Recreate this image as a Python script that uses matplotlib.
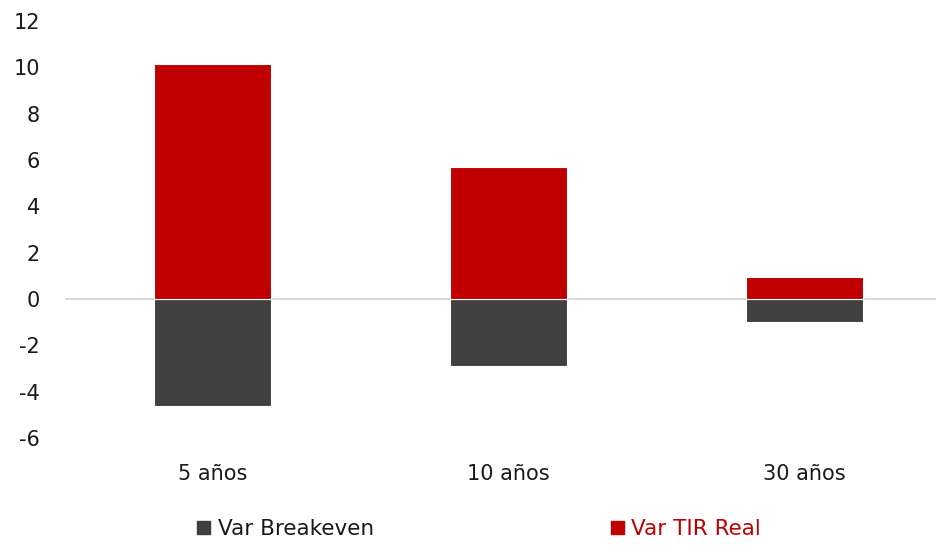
import matplotlib
matplotlib.use('Agg')
import matplotlib.pyplot as plt
from matplotlib.patches import Patch
import numpy as np

categories = ['5 años', '10 años', '30 años']
var_breakeven = [-4.6, -2.9, -1.0]
var_tir_real = [10.15, 5.7, 0.95]
y_ticks = [-6, -4, -2, 0, 2, 4, 6, 8, 10, 12]

RED = '#C00000'
DARK = '#404040'

plt.rcParams['font.family'] = ['DejaVu Sans']

fig = plt.figure(figsize=(9.36, 5.46), dpi=100)
ax = fig.add_axes([65 / 936, 108 / 546, 1 - 65 / 936, 417 / 546])

x = np.arange(len(categories))
width = 0.395
ax.bar(x, var_breakeven, width, color=DARK, edgecolor='white', linewidth=0.8, zorder=2)
ax.bar(x, var_tir_real, width, color=RED, edgecolor='white', linewidth=0.8, zorder=2)
ax.axhline(0, color='#d9d9d9', linewidth=1.5, zorder=1)

ax.set_xlim(-0.5, 2.5 - 16.5 / 296)
ax.set_ylim(-6, 12)
ax.set_yticks(y_ticks)
ax.set_yticklabels([str(t) for t in y_ticks])
ax.set_xticks(x)
ax.set_xticklabels(categories)
ax.tick_params(axis='both', length=0, labelsize=15, colors='#1a1a1a')
ax.tick_params(axis='y', pad=18)
ax.tick_params(axis='x', pad=19)
for s in ax.spines.values():
    s.set_visible(False)

handles = [Patch(color=DARK), Patch(color=RED)]
leg = fig.legend(handles, ['Var Breakeven', 'Var TIR Real'], loc='center',
                 bbox_to_anchor=(479 / 936, 1 - 529 / 546), ncol=2, frameon=False,
                 fontsize=15.5, handlelength=0.6, handleheight=0.6, handletextpad=0.35,
                 columnspacing=11.0, labelcolor=['#1a1a1a', RED])

fig.savefig('out.png', dpi=100)
